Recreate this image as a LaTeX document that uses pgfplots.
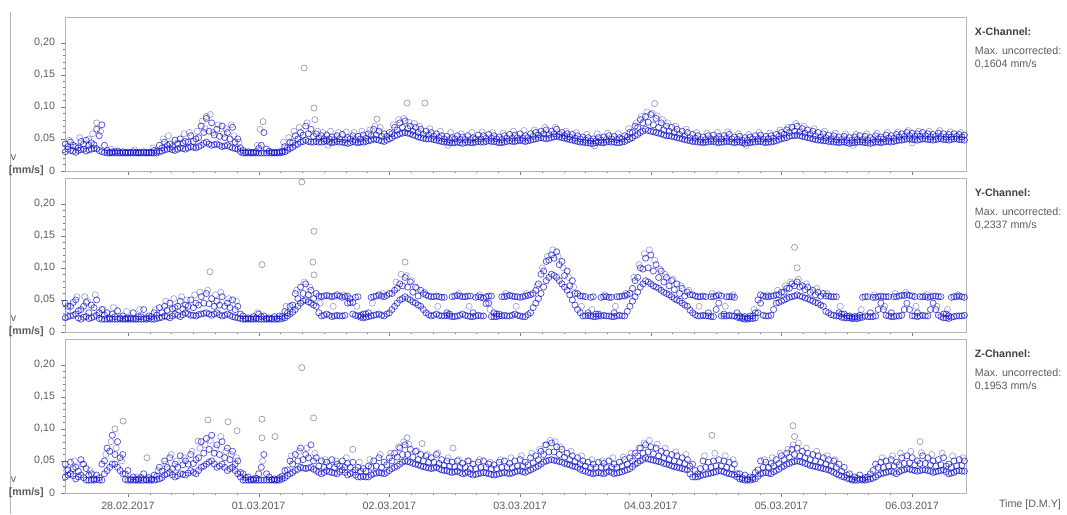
\documentclass[border=0pt]{standalone}
\usepackage{pgfplots}
\pgfplotsset{compat=1.18}
\usepackage{pgfplotstable}
\usepackage{fontspec}
\setmainfont{Liberation Sans}

\definecolor{txt}{HTML}{5A5A5A}
\definecolor{frm}{HTML}{B4B4B4}
\definecolor{ptc}{HTML}{1212C8}
\definecolor{outc}{HTML}{7070A0}

% d = days from 28.02.2017 00:00; two points per time step and channel
\pgfplotstableread{
d xa xb ya yb za zb
-0.48 .030 .042 .022 .045 .025 .045
-0.44 .032 .045 .025 .040 .030 .048
-0.40 .029 .038 .028 .050 .022 .040
-0.36 .033 .046 .020 .035 .028 .052
-0.32 .031 .048 .024 .046 .020 .038
-0.28 .034 .044 .022 .042 .020 .030
-0.24 .035 .065 .026 .050 .021 .028
-0.20 .030 .072 .020 .035 .020 .045
-0.16 .028 .032 .020 .030 .035 .070
-0.12 .028 .030 .020 .028 .045 .090
-0.08 .028 .031 .020 .033 .040 .080
-0.04 .028 .030 .020 .025 .030 .060
0.00 .028 .029 .020 .022 .020 .035
0.04 .028 .030 .020 .030 .020 .025
0.08 .028 .029 .020 .024 .020 .022
0.12 .028 .030 .020 .035 .020 .030
0.16 .028 .029 .021 .025 .020 .024
0.20 .028 .032 .020 .030 .020 .028
0.24 .030 .040 .022 .038 .022 .040
0.28 .033 .045 .025 .040 .028 .050
0.32 .035 .042 .022 .045 .032 .055
0.36 .032 .048 .028 .038 .025 .045
0.40 .036 .050 .024 .048 .030 .058
0.44 .034 .046 .030 .042 .028 .050
0.48 .038 .055 .026 .050 .035 .060
0.52 .036 .050 .025 .045 .030 .052
0.56 .040 .070 .028 .055 .040 .080
0.60 .045 .082 .030 .060 .045 .085
0.64 .040 .075 .026 .052 .050 .090
0.68 .042 .065 .030 .048 .040 .075
0.72 .038 .070 .025 .055 .045 .080
0.76 .040 .060 .028 .045 .035 .070
0.80 .036 .068 .024 .050 .040 .065
0.84 .034 .050 .022 .040 .030 .050
0.88 .028 .032 .020 .025 .020 .030
0.92 .028 .030 .020 .022 .020 .025
0.96 .028 .029 .020 .024 .020 .022
1.00 .028 .035 .020 .028 .020 .030
1.04 .028 .060 .020 .025 .020 .060
1.08 .028 .031 .020 .022 .020 .025
1.12 .028 .029 .020 .024 .020 .022
1.16 .028 .030 .020 .025 .020 .024
1.20 .030 .038 .022 .032 .024 .035
1.24 .035 .045 .028 .040 .030 .050
1.28 .040 .055 .035 .060 .035 .060
1.32 .045 .060 .045 .070 .040 .070
1.36 .048 .070 .050 .075 .038 .060
1.40 .045 .065 .045 .065 .040 .075
1.44 .046 .058 .040 .060 .035 .055
1.48 .045 .055 .025 .055 .030 .050
1.52 .047 .056 .028 .057 .035 .048
1.56 .044 .053 .024 .055 .032 .052
1.60 .046 .055 .026 .058 .030 .045
1.64 .045 .057 .025 .054 .036 .050
1.68 .043 .052 .045 .056 .028 .046
1.72 .046 .055 .028 .046 .032 .048
1.76 .044 .054 .025 .055 .025 .040
1.80 .045 .056 .022 .028 .026 .038
1.84 .047 .058 .024 .030 .025 .042
1.88 .050 .065 .026 .055 .030 .050
1.92 .048 .062 .028 .058 .032 .055
1.96 .046 .058 .025 .055 .030 .048
2.00 .050 .060 .030 .060 .035 .055
2.04 .055 .068 .040 .065 .040 .062
2.08 .058 .075 .050 .075 .045 .070
2.12 .060 .078 .055 .085 .050 .075
2.16 .058 .070 .050 .078 .048 .068
2.20 .055 .068 .045 .070 .045 .065
2.24 .052 .065 .040 .065 .042 .060
2.28 .050 .062 .030 .058 .040 .058
2.32 .050 .060 .025 .055 .038 .055
2.36 .048 .058 .028 .056 .040 .060
2.40 .046 .055 .025 .054 .036 .052
2.44 .045 .054 .026 .030 .035 .050
2.48 .044 .052 .024 .055 .032 .048
2.52 .045 .055 .025 .057 .034 .050
2.56 .043 .053 .028 .055 .030 .046
2.60 .045 .055 .025 .056 .033 .050
2.64 .044 .052 .024 .030 .028 .045
2.68 .046 .056 .026 .055 .030 .048
2.72 .045 .055 .025 .053 .032 .050
2.76 .047 .057 .045 .056 .030 .045
2.80 .046 .055 .024 .030 .028 .044
2.84 .044 .053 .025 .028 .030 .048
2.88 .045 .055 .026 .055 .032 .050
2.92 .047 .057 .025 .057 .030 .046
2.96 .046 .056 .028 .055 .033 .050
3.00 .048 .058 .025 .054 .035 .052
3.04 .046 .055 .024 .056 .032 .048
3.08 .048 .058 .030 .058 .036 .055
3.12 .050 .060 .045 .065 .040 .058
3.16 .052 .062 .060 .090 .045 .065
3.20 .050 .064 .080 .110 .050 .075
3.24 .052 .062 .090 .120 .052 .078
3.28 .054 .065 .085 .125 .050 .072
3.32 .052 .060 .075 .110 .048 .068
3.36 .050 .058 .065 .095 .045 .062
3.40 .048 .057 .050 .080 .042 .058
3.44 .046 .055 .035 .060 .040 .055
3.48 .045 .053 .025 .056 .035 .050
3.52 .044 .052 .026 .030 .032 .048
3.56 .043 .050 .024 .055 .030 .045
3.60 .045 .052 .025 .028 .032 .048
3.64 .044 .053 .026 .055 .030 .046
3.68 .046 .055 .025 .054 .034 .050
3.72 .045 .054 .024 .030 .030 .045
3.76 .044 .052 .026 .055 .032 .048
3.80 .046 .055 .025 .056 .035 .052
3.84 .050 .060 .040 .060 .038 .055
3.88 .055 .070 .055 .080 .045 .062
3.92 .060 .080 .070 .100 .050 .070
3.96 .065 .085 .080 .115 .055 .075
4.00 .062 .088 .075 .120 .052 .072
4.04 .060 .082 .070 .105 .050 .070
4.08 .058 .075 .065 .095 .048 .065
4.12 .055 .070 .060 .085 .045 .062
4.16 .054 .068 .055 .080 .042 .060
4.20 .052 .065 .050 .075 .040 .058
4.24 .050 .062 .045 .068 .038 .055
4.28 .048 .060 .040 .062 .036 .052
4.32 .046 .057 .030 .058 .025 .045
4.36 .045 .055 .025 .055 .025 .030
4.40 .044 .053 .026 .056 .028 .050
4.44 .045 .055 .025 .030 .030 .048
4.48 .046 .056 .024 .055 .032 .050
4.52 .044 .054 .045 .058 .035 .052
4.56 .045 .055 .025 .028 .033 .050
4.60 .046 .057 .026 .055 .030 .048
4.64 .044 .053 .025 .054 .028 .045
4.68 .045 .054 .022 .025 .022 .030
4.72 .043 .052 .020 .024 .020 .028
4.76 .044 .053 .021 .025 .020 .025
4.80 .045 .055 .022 .030 .022 .032
4.84 .046 .056 .045 .058 .030 .050
4.88 .044 .054 .025 .055 .032 .048
4.92 .045 .055 .026 .056 .030 .046
4.96 .047 .057 .045 .058 .035 .052
5.00 .050 .060 .048 .062 .040 .058
5.04 .052 .064 .052 .068 .045 .062
5.08 .055 .068 .055 .075 .048 .068
5.12 .056 .070 .058 .078 .050 .070
5.16 .054 .066 .055 .072 .048 .065
5.20 .052 .064 .052 .070 .045 .062
5.24 .050 .062 .048 .065 .042 .060
5.28 .048 .060 .045 .062 .040 .058
5.32 .047 .058 .040 .060 .038 .055
5.36 .046 .056 .030 .056 .036 .052
5.40 .045 .055 .026 .055 .032 .050
5.44 .044 .053 .025 .030 .028 .045
5.48 .045 .054 .022 .028 .025 .040
5.52 .043 .052 .022 .025 .022 .030
5.56 .044 .053 .021 .024 .020 .025
5.60 .045 .055 .022 .026 .021 .028
5.64 .044 .054 .025 .055 .020 .024
5.68 .043 .052 .024 .030 .022 .030
5.72 .045 .055 .025 .054 .025 .045
5.76 .044 .053 .045 .056 .030 .048
5.80 .046 .056 .026 .055 .032 .050
5.84 .045 .055 .024 .030 .034 .052
5.88 .047 .057 .025 .055 .030 .048
5.92 .048 .058 .026 .057 .035 .055
5.96 .050 .060 .045 .058 .038 .058
6.00 .049 .059 .025 .056 .036 .055
6.04 .048 .058 .024 .030 .034 .050
6.08 .050 .060 .026 .055 .036 .058
6.12 .049 .058 .025 .054 .035 .055
6.16 .048 .057 .045 .056 .032 .050
6.20 .050 .059 .026 .055 .034 .052
6.24 .049 .058 .022 .028 .036 .055
6.28 .048 .057 .021 .025 .030 .045
6.32 .050 .058 .024 .055 .032 .050
6.36 .049 .057 .025 .056 .035 .052
6.40 .048 .056 .026 .054 .034 .050
}\vib

% the in-between time steps
\pgfplotstableread{
d xa xb ya yb za zb
-0.46 .038 .034 .040 .024 .036 .028
-0.42 .040 .031 .046 .026 .038 .027
-0.38 .036 .032 .033 .022 .034 .025
-0.34 .042 .034 .040 .023 .045 .024
-0.30 .040 .033 .030 .021 .028 .020
-0.26 .041 .035 .038 .024 .022 .020
-0.22 .055 .032 .030 .021 .024 .020
-0.18 .040 .029 .026 .020 .050 .030
-0.14 .029 .028 .022 .020 .065 .040
-0.10 .030 .028 .024 .020 .060 .045
-0.06 .029 .028 .022 .020 .055 .035
-0.02 .029 .028 .021 .020 .030 .021
0.02 .029 .028 .022 .020 .022 .020
0.06 .029 .028 .021 .020 .021 .020
0.10 .029 .028 .024 .020 .024 .020
0.14 .029 .028 .022 .020 .021 .020
0.18 .029 .028 .024 .020 .022 .020
0.22 .031 .028 .026 .021 .026 .021
0.26 .036 .031 .030 .023 .034 .024
0.30 .040 .034 .034 .024 .040 .030
0.34 .038 .033 .036 .025 .038 .028
0.38 .042 .034 .040 .026 .040 .027
0.42 .044 .035 .036 .027 .044 .029
0.46 .045 .036 .040 .028 .045 .031
0.50 .046 .037 .038 .026 .046 .032
0.54 .052 .038 .042 .027 .055 .035
0.58 .060 .043 .045 .029 .062 .042
0.62 .062 .042 .044 .028 .068 .048
0.66 .056 .041 .040 .028 .062 .045
0.70 .054 .040 .042 .027 .060 .042
0.74 .052 .039 .040 .026 .055 .040
0.78 .050 .038 .038 .026 .052 .038
0.82 .045 .035 .035 .023 .045 .035
0.86 .036 .030 .028 .021 .032 .025
0.90 .029 .028 .021 .020 .024 .020
0.94 .029 .028 .021 .020 .021 .020
0.98 .030 .028 .022 .020 .023 .020
1.02 .040 .028 .024 .020 .040 .020
1.06 .034 .028 .021 .020 .030 .020
1.10 .029 .028 .021 .020 .021 .020
1.14 .029 .028 .021 .020 .021 .020
1.18 .031 .029 .024 .021 .026 .022
1.22 .036 .032 .030 .025 .036 .027
1.26 .044 .037 .042 .031 .045 .032
1.30 .050 .042 .052 .040 .050 .037
1.34 .056 .046 .060 .048 .052 .039
1.38 .058 .046 .058 .047 .055 .039
1.42 .054 .045 .052 .042 .050 .037
1.46 .051 .045 .056 .030 .042 .032
1.50 .050 .046 .056 .026 .040 .032
1.54 .050 .045 .056 .026 .042 .033
1.58 .049 .045 .056 .025 .040 .031
1.62 .050 .045 .056 .025 .042 .033
1.66 .049 .044 .055 .026 .040 .032
1.70 .050 .044 .052 .046 .040 .030
1.74 .049 .045 .054 .026 .036 .028
1.78 .050 .045 .026 .023 .034 .025
1.82 .051 .046 .028 .023 .034 .025
1.86 .055 .048 .054 .025 .040 .028
1.90 .056 .049 .056 .027 .042 .031
1.94 .054 .047 .056 .026 .040 .031
1.98 .054 .048 .057 .028 .044 .032
2.02 .058 .052 .060 .035 .050 .038
2.06 .064 .056 .068 .045 .056 .042
2.10 .068 .059 .072 .052 .060 .048
2.14 .066 .059 .070 .052 .060 .049
2.18 .062 .056 .062 .047 .056 .046
2.22 .060 .053 .056 .042 .052 .044
2.26 .057 .051 .060 .035 .050 .041
2.30 .056 .050 .056 .027 .048 .039
2.34 .054 .049 .055 .026 .048 .039
2.38 .052 .047 .055 .026 .046 .038
2.42 .050 .045 .054 .025 .043 .035
2.46 .049 .044 .028 .025 .042 .033
2.50 .050 .044 .056 .024 .041 .033
2.54 .049 .044 .056 .026 .040 .032
2.58 .049 .044 .055 .026 .040 .031
2.62 .049 .044 .056 .024 .038 .030
2.66 .050 .045 .054 .025 .038 .029
2.70 .050 .045 .054 .025 .040 .031
2.74 .051 .046 .055 .044 .040 .031
2.78 .051 .046 .056 .024 .038 .029
2.82 .050 .045 .028 .024 .038 .029
2.86 .049 .044 .055 .025 .040 .031
2.90 .051 .046 .056 .025 .040 .031
2.94 .051 .046 .056 .026 .040 .031
2.98 .052 .047 .055 .026 .042 .034
3.02 .051 .047 .055 .024 .042 .033
3.06 .052 .047 .057 .027 .044 .034
3.10 .054 .049 .060 .038 .047 .038
3.14 .056 .051 .075 .052 .052 .042
3.18 .058 .051 .095 .070 .060 .048
3.22 .057 .051 .112 .085 .064 .051
3.26 .058 .053 .115 .088 .064 .051
3.30 .057 .053 .105 .080 .060 .049
3.34 .055 .051 .088 .070 .056 .046
3.38 .053 .049 .072 .058 .052 .044
3.42 .051 .047 .060 .042 .049 .041
3.46 .050 .045 .056 .030 .045 .037
3.50 .048 .044 .055 .025 .042 .034
3.54 .047 .043 .054 .025 .040 .031
3.58 .047 .044 .028 .024 .040 .031
3.62 .048 .044 .054 .025 .040 .031
3.66 .049 .045 .055 .025 .040 .032
3.70 .050 .045 .054 .024 .040 .032
3.74 .049 .044 .055 .025 .040 .031
3.78 .050 .045 .056 .025 .042 .033
3.82 .053 .048 .058 .032 .045 .036
3.86 .060 .052 .068 .048 .050 .041
3.90 .068 .057 .085 .062 .058 .047
3.94 .075 .062 .098 .075 .062 .052
3.98 .076 .063 .100 .078 .064 .053
4.02 .072 .061 .095 .072 .061 .051
4.06 .068 .059 .085 .068 .058 .049
4.10 .064 .056 .078 .062 .055 .046
4.14 .062 .055 .072 .058 .052 .044
4.18 .060 .053 .066 .052 .050 .041
4.22 .057 .051 .060 .048 .048 .039
4.26 .055 .049 .056 .042 .046 .037
4.30 .052 .047 .058 .034 .042 .030
4.34 .051 .046 .056 .027 .035 .025
4.38 .049 .045 .055 .025 .038 .027
4.42 .049 .045 .055 .025 .040 .029
4.46 .050 .046 .055 .024 .040 .031
4.50 .050 .045 .056 .035 .042 .033
4.54 .050 .045 .056 .025 .042 .034
4.58 .051 .046 .055 .025 .040 .031
4.62 .050 .045 .055 .025 .038 .029
4.66 .049 .045 .030 .023 .030 .025
4.70 .048 .044 .023 .021 .024 .021
4.74 .048 .044 .022 .020 .022 .020
4.78 .050 .045 .025 .021 .024 .021
4.82 .050 .046 .050 .030 .036 .026
4.86 .050 .045 .056 .026 .040 .031
4.90 .050 .045 .055 .025 .040 .031
4.94 .051 .046 .056 .035 .042 .033
4.98 .054 .049 .058 .046 .046 .037
5.02 .057 .051 .062 .050 .052 .042
5.06 .060 .054 .068 .054 .056 .046
5.10 .062 .055 .072 .056 .060 .049
5.14 .061 .055 .070 .056 .058 .049
5.18 .059 .053 .066 .053 .055 .046
5.22 .057 .051 .062 .050 .052 .043
5.26 .055 .049 .058 .046 .050 .041
5.30 .053 .048 .056 .042 .048 .039
5.34 .052 .047 .056 .032 .045 .037
5.38 .050 .046 .055 .027 .042 .034
5.42 .049 .045 .055 .025 .040 .030
5.46 .049 .045 .028 .023 .034 .026
5.50 .048 .044 .025 .022 .028 .023
5.54 .048 .044 .023 .021 .022 .020
5.58 .049 .045 .024 .021 .023 .020
5.62 .049 .045 .054 .023 .022 .020
5.66 .048 .044 .055 .024 .025 .021
5.70 .049 .044 .054 .024 .035 .023
5.74 .050 .045 .055 .035 .040 .028
5.78 .050 .045 .055 .035 .040 .031
5.82 .051 .046 .055 .025 .042 .033
5.86 .051 .046 .055 .024 .042 .032
5.90 .053 .048 .056 .025 .044 .033
5.94 .054 .049 .057 .035 .046 .036
5.98 .055 .050 .057 .035 .047 .037
6.02 .054 .049 .055 .025 .044 .035
6.06 .054 .049 .055 .025 .046 .035
6.10 .055 .050 .055 .025 .046 .036
6.14 .053 .049 .055 .035 .044 .034
6.18 .054 .049 .056 .035 .042 .033
6.22 .054 .050 .055 .024 .044 .035
6.26 .053 .049 .028 .022 .042 .033
6.30 .053 .049 .054 .023 .040 .031
6.34 .054 .050 .055 .025 .042 .034
6.38 .053 .049 .055 .025 .043 .034
}\vibb

% scattered readings off the band
\pgfplotstableread{
d v
-0.45 .048
-0.37 .052
-0.30 .050
-0.27 .058
-0.21 .062
-0.13 .034
0.05 .033
0.19 .036
0.27 .050
0.31 .055
0.38 .044
0.43 .058
0.47 .060
0.53 .062
0.57 .078
0.59 .066
0.63 .088
0.65 .060
0.69 .072
0.73 .058
0.75 .066
0.79 .072
0.81 .055
0.85 .045
0.99 .040
1.01 .065
1.19 .045
1.23 .052
1.27 .062
1.31 .068
1.37 .075
1.45 .062
1.49 .060
1.53 .040
1.55 .062
1.61 .060
1.67 .061
1.73 .060
1.79 .062
1.85 .064
1.89 .070
1.93 .068
2.03 .072
2.07 .080
2.11 .082
2.15 .076
2.19 .074
2.23 .070
2.31 .066
2.39 .062
2.45 .040
2.47 .060
2.55 .058
2.63 .060
2.71 .061
2.79 .060
2.87 .059
2.95 .062
3.03 .063
3.11 .064
3.19 .068
3.27 .068
3.35 .062
3.43 .060
3.51 .057
3.57 .039
3.59 .058
3.67 .059
3.75 .058
3.83 .066
3.89 .075
3.93 .085
3.97 .092
4.01 .090
4.05 .086
4.09 .080
4.13 .075
4.19 .070
4.27 .065
4.35 .060
4.43 .059
4.51 .060
4.59 .061
4.67 .058
4.73 .040
4.75 .057
4.83 .060
4.91 .059
4.99 .064
5.05 .068
5.11 .074
5.17 .070
5.25 .066
5.33 .062
5.41 .059
5.49 .058
5.55 .040
5.57 .057
5.65 .058
5.73 .059
5.81 .060
5.89 .061
5.97 .063
6.00 .044
6.05 .062
6.13 .062
6.21 .063
6.29 .061
6.37 .060
}\xjit

\pgfplotstableread{
d v
-0.46 .035
-0.39 .055
-0.31 .048
-0.25 .058
-0.19 .035
-0.11 .038
-0.01 .032
0.09 .035
0.21 .035
0.29 .048
0.35 .052
0.41 .055
0.45 .050
0.51 .058
0.55 .062
0.61 .065
0.67 .058
0.71 .062
0.77 .052
0.83 .048
0.99 .030
1.21 .040
1.29 .065
1.35 .078
1.39 .070
1.47 .045
1.57 .040
1.65 .058
1.75 .040
1.87 .045
1.95 .060
2.05 .078
2.09 .090
2.13 .088
2.17 .080
2.21 .068
2.27 .062
2.37 .040
2.53 .060
2.61 .040
2.69 .058
2.77 .035
2.89 .060
2.97 .040
3.05 .060
3.13 .072
3.17 .100
3.21 .118
3.25 .128
3.29 .118
3.33 .100
3.37 .085
3.41 .070
3.47 .040
3.55 .035
3.65 .058
3.73 .040
3.81 .060
3.87 .085
3.91 .105
3.95 .122
3.99 .128
4.03 .112
4.07 .098
4.11 .090
4.17 .082
4.23 .072
4.29 .065
4.37 .040
4.47 .060
4.57 .040
4.63 .058
4.79 .035
4.89 .058
4.97 .065
5.03 .072
5.07 .078
5.13 .082
5.19 .075
5.27 .068
5.35 .060
5.45 .040
5.61 .035
5.71 .058
5.79 .040
5.87 .060
5.95 .062
6.03 .040
6.11 .058
6.19 .040
6.27 .035
6.35 .058
}\yjit

\pgfplotstableread{
d v
-0.47 .035
-0.41 .050
-0.35 .045
-0.29 .035
-0.17 .060
-0.13 .080
-0.09 .070
-0.05 .050
0.07 .025
0.23 .035
0.29 .045
0.33 .060
0.37 .050
0.43 .055
0.49 .065
0.55 .070
0.59 .075
0.63 .082
0.67 .070
0.71 .088
0.75 .065
0.79 .060
0.83 .055
1.03 .050
1.25 .058
1.31 .065
1.37 .070
1.43 .062
1.51 .052
1.59 .050
1.67 .055
1.77 .048
1.85 .052
1.93 .060
2.01 .062
2.07 .072
2.11 .080
2.15 .076
2.21 .066
2.29 .060
2.37 .062
2.45 .055
2.53 .052
2.61 .050
2.69 .052
2.77 .048
2.85 .052
2.93 .055
3.01 .058
3.09 .062
3.15 .068
3.19 .075
3.23 .082
3.27 .080
3.31 .072
3.39 .065
3.47 .058
3.55 .052
3.63 .050
3.71 .055
3.79 .056
3.85 .062
3.91 .070
3.95 .078
3.99 .082
4.05 .076
4.11 .070
4.19 .064
4.27 .060
4.41 .058
4.49 .062
4.57 .058
4.63 .052
4.87 .052
4.93 .055
4.99 .062
5.05 .068
5.09 .075
5.13 .078
5.19 .070
5.27 .065
5.35 .058
5.41 .052
5.77 .055
5.85 .058
5.91 .062
5.99 .065
6.07 .063
6.15 .060
6.23 .062
6.31 .058
6.39 .055
}\zjit

% isolated peaks
\pgfplotstableread{
d v
-0.24 .075
0.60 .085
1.033 .077
1.347 .1604
1.423 .098
1.43 .080
1.905 .081
2.135 .106
2.272 .106
4.03 .105
}\xout

\pgfplotstableread{
d v
-0.33 .055
0.627 .094
1.025 .105
1.33 .2337
1.423 .157
1.415 .109
1.423 .089
2.12 .109
5.10 .132
5.12 .100
}\yout

\pgfplotstableread{
d v
-0.10 .100
-0.038 .112
0.145 .055
0.536 .081
0.612 .114
0.765 .111
0.834 .097
1.025 .115
1.025 .086
1.125 .088
1.33 .1953
1.42 .117
1.72 .068
2.135 .086
2.25 .077
2.487 .070
4.468 .090
5.088 .105
5.10 .088
6.06 .080
}\zout

\pgfplotsset{
  chan/.style={
    at={(48.75pt,#1)}, anchor=south west,
    scale only axis, width=675.75pt, height=115.5pt,
    xmin=-0.482, xmax=6.412, ymin=0, ymax=0.24,
    axis line style={frm}, tick style={frm!70!black},
    tick align=outside, xtick pos=bottom, ytick pos=left,
    major tick length=3pt, minor tick length=1.6pt,
    xtick={0,1,2,3,4,5,6}, minor x tick num=5,
    ytick={0,0.05,0.1,0.15,0.2}, minor y tick num=4,
    yticklabels={0,{0,05},{0,10},{0,15},{0,20}},
    yticklabel style={font=\fontsize{8}{9}\selectfont, text=txt, xshift=-1pt},
    xticklabel style={font=\fontsize{8}{9}\selectfont, text=txt},
    xticklabels={},
  },
  pts/.style={only marks, mark=o, mark size=2.3pt, ptc, opacity=0.72, line width=0.55pt},
  jit/.style={only marks, mark=o, mark size=2.3pt, ptc!70!gray, opacity=0.5, line width=0.45pt},
  outl/.style={only marks, mark=o, mark size=2.3pt, outc, opacity=0.8, line width=0.45pt},
}

\begin{document}
\begin{tikzpicture}[font=\fontsize{8}{9}\selectfont]
\useasboundingbox (0,0) rectangle (800.25pt,385.5pt);
\draw[frm] (7.5pt,0) -- (7.5pt,376.5pt);

\begin{axis}[chan=257.25pt]
\addplot[jit] table[x=d,y=v]{\xjit};
\addplot[pts] table[x=d,y=xa]{\vib};
\addplot[pts] table[x=d,y=xb]{\vib};
\addplot[pts] table[x=d,y=xa]{\vibb};
\addplot[pts] table[x=d,y=xb]{\vibb};
\addplot[outl] table[x=d,y=v]{\xout};
\end{axis}

\begin{axis}[chan=136.5pt]
\addplot[jit] table[x=d,y=v]{\yjit};
\addplot[pts] table[x=d,y=ya]{\vib};
\addplot[pts] table[x=d,y=yb]{\vib};
\addplot[pts] table[x=d,y=ya]{\vibb};
\addplot[pts] table[x=d,y=yb]{\vibb};
\addplot[outl] table[x=d,y=v]{\yout};
\end{axis}

\begin{axis}[chan=15.75pt,
  xticklabels={28.02.2017,01.03.2017,02.03.2017,03.03.2017,04.03.2017,05.03.2017,06.03.2017}]
\addplot[jit] table[x=d,y=v]{\zjit};
\addplot[pts] table[x=d,y=za]{\vib};
\addplot[pts] table[x=d,y=zb]{\vib};
\addplot[pts] table[x=d,y=za]{\vibb};
\addplot[pts] table[x=d,y=zb]{\vibb};
\addplot[outl] table[x=d,y=v]{\zout};
\end{axis}

% unit labels beside the zero ticks
\foreach \yb in {257.25,136.5,15.75} {
  \node[anchor=east, text=txt, font=\bfseries\fontsize{8}{9}\selectfont, inner sep=0pt] at (33pt,\yb pt) {[mm/s]};
  \node[anchor=west, text=txt, inner sep=0pt] at (8pt,\yb pt+10pt) {v};
}

% channel notes on the right
\foreach \yt/\ch/\mx in {361.5/X/0{,}1604,240.75/Y/0{,}2337,120/Z/0{,}1953} {
  \node[anchor=west, text=black!75, font=\bfseries\fontsize{8}{9}\selectfont, inner sep=0pt] at (731pt,\yt pt) {\ch-Channel:};
  \node[anchor=west, text=txt, inner sep=0pt] at (731pt,\yt pt-14pt) {Max. uncorrected:};
  \node[anchor=west, text=txt, inner sep=0pt] at (731pt,\yt pt-24pt) {\mx\ mm/s};
}

\node[text=txt, inner sep=0pt] at (772.5pt,6.75pt) {Time [D.M.Y]};
\end{tikzpicture}
\end{document}
